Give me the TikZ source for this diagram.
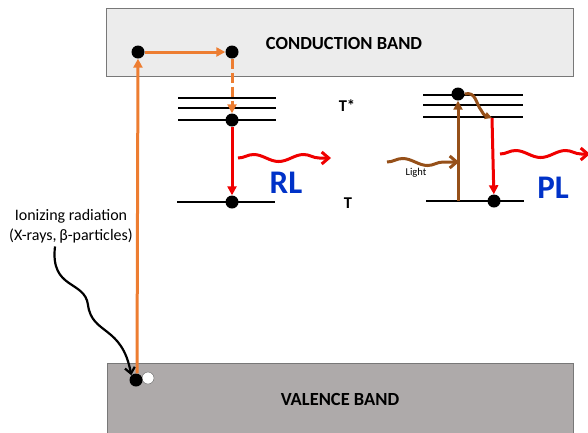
\documentclass[tikz,border=0pt]{standalone}
\usepackage{fontspec}
\setmainfont{Carlito}
\usetikzlibrary{positioning,arrows.meta,decorations.pathmorphing}

\definecolor{cbfill}{RGB}{236,236,236}
\definecolor{vbfill}{RGB}{174,170,170}
\definecolor{edgegray}{RGB}{120,120,120}
\definecolor{exorange}{RGB}{237,125,49}
\definecolor{emred}{RGB}{240,0,0}
\definecolor{lightbrown}{RGB}{150,80,25}
\definecolor{lumblue}{RGB}{0,50,200}

\begin{document}
\begin{tikzpicture}[x=1pt, y=-1pt,
    dot/.style={circle, fill=black, inner sep=0pt, minimum size=13pt},
    hole/.style={circle, draw=black!60, fill=white, inner sep=0pt, minimum size=12pt},
    level/.style={line width=2.3pt},
    band/.style={font=\fontsize{18.5}{22}\selectfont\bfseries},
    levlabel/.style={font=\fontsize{16.5}{19}\selectfont\bfseries},
    lumlabel/.style={font=\fontsize{33}{38}\selectfont\bfseries, text=lumblue},
    wave/.style={decorate, decoration={snake, amplitude=3.5pt, segment length=50pt, post length=7pt}},
    photon/.style={line width=3pt, -{Straight Barb[length=7pt, width=12pt]}},
    hop/.style={line width=3pt, -{Triangle[length=9pt, width=9pt]}}
]
    \useasboundingbox (0,0) rectangle (588,432);
    \begin{scope}
    \clip (0,0) rectangle (588,432);
    % bands
    \draw[edgegray, fill=cbfill] (106,8) rectangle (573,76);
    \draw[edgegray, fill=vbfill] (107,363) rectangle (573,440);
    \node[band] (cbname) at (344,43) {CONDUCTION BAND};
    \node[band] (vbname) at (340,399) {VALENCE BAND};

    % trap levels
    \foreach \y in {98,108,120} {
        \draw[level] (178,\y) -- (276,\y);
        \draw[level] (423,\y-3) -- (523,\y-3);
    }
    \draw[level] (177,202) -- (275,202);
    \draw[level] (426,201) -- (524,201);
    \node[levlabel] (tstar) at (347,106) {T*};
    \node[levlabel] (tzero) at (348,203) {T};

    % carriers
    \node[dot] (c1) at (138,52) {};
    \node[dot] (c2) at (232,52) {};
    \node[dot] (t1) at (232,120) {};
    \node[dot] (t0) at (232,202) {};
    \node[dot] (p1) at (458,94) {};
    \node[dot] (p0) at (494,201) {};
    \node[hole] (h1) at (148,378) {};
    \node[dot] (e1) at (136,380) {};
    \coordinate (pbase) at (458,201);
    \coordinate (pdrop) at (492,118);

    % RL path
    \draw[exorange, hop] ([xshift=1pt]e1.north) -- (c1);
    \draw[exorange, hop] (c1) -- (c2);
    \draw[exorange, hop, dash pattern=on 10pt off 4pt] (c2) -- (t1);
    \draw[emred, hop] (t1) -- (t0);
    \coordinate (rlstart) at (238,158);
    \coordinate (rlend) at (331,158);
    \draw[emred, photon, wave] (rlstart) -- (rlend);
    \node[lumlabel] (rl) at (286,183) {RL};

    % PL path
    \draw[lightbrown, hop] (pbase) -- (p1);
    \draw[lightbrown, line width=3pt, -{Triangle[length=7pt, width=7pt]}]
        (p1.east) .. controls (476,91) and (476,104) .. (481,110)
        .. controls (484,115) .. (pdrop);
    \draw[emred, hop] (pdrop) -- (p0);
    \coordinate (lightstart) at (387,162);
    \coordinate (lightend) at (459,162);
    \draw[lightbrown, photon, wave] (lightstart) -- (lightend);
    \node[font=\fontsize{10.5}{12}\selectfont] (lightname) at (416,173) {Light};
    \coordinate (plstart) at (500,154);
    \coordinate (plend) at (590,154);
    \draw[emred, photon, wave] (plstart) -- (plend);
    \node[lumlabel] (pl) at (553,188) {PL};

    % excitation
    \node[font=\fontsize{16}{20}\selectfont, align=center] (ionz) at (71,226)
        {Ionizing radiation\\(X-rays,\,β-particles)};
    \draw[line width=2.2pt, -{Straight Barb[length=6pt, width=10pt]}]
        ([xshift=-16pt]ionz.south) .. controls (50,290) and (85,280) .. (88,305)
        .. controls (92,335) and (122,325) .. (e1.north west);
    \end{scope}
\end{tikzpicture}
\end{document}
